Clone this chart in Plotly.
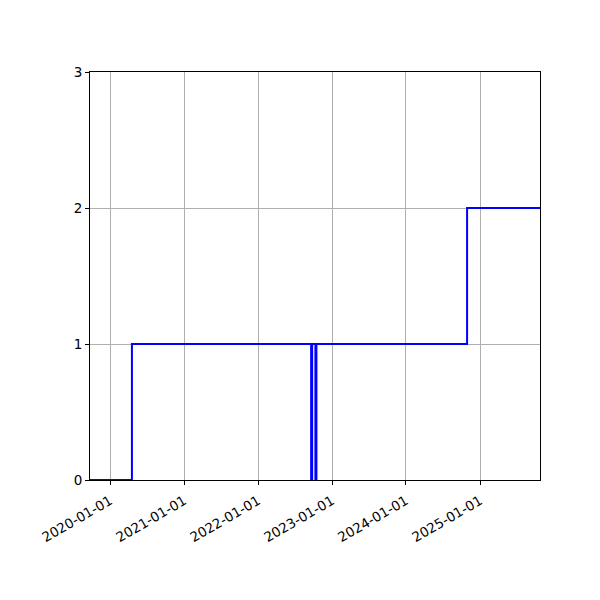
import plotly.graph_objects as go

dates = ["2019-09-24", "2020-04-18", "2022-09-20", "2022-09-25",
         "2022-10-11", "2022-10-16", "2024-10-29", "2025-10-24"]
values = [0, 1, 0, 1, 0, 1, 2, 2]
tick_dates = ["2020-01-01", "2021-01-01", "2022-01-01", "2023-01-01", "2024-01-01", "2025-01-01"]
y_ticks = [0, 1, 2, 3]

fig = go.Figure()
fig.add_trace(go.Scatter(x=dates, y=values, mode="lines", line_shape="hv",
                         line=dict(color="blue", width=2), showlegend=False))

fig.update_layout(
    width=600, height=600,
    margin=dict(l=82, r=68, t=64, b=128),
    plot_bgcolor="white", paper_bgcolor="white",
    font=dict(family="DejaVu Sans", size=13.5, color="black"),
)
fig.update_xaxes(
    range=["2019-09-24", "2025-10-24"],
    tickvals=tick_dates, ticktext=tick_dates, tickangle=-30,
    showgrid=True, gridcolor="#b0b0b0", gridwidth=1,
    showline=True, linecolor="black", linewidth=1, mirror=True,
    ticks="outside", ticklen=4, tickcolor="black", zeroline=False,
    ticklabelstandoff=3, layer="below traces",
)
fig.update_yaxes(
    range=[0, 3], tickvals=y_ticks,
    showgrid=True, gridcolor="#b0b0b0", gridwidth=1,
    showline=True, linecolor="black", linewidth=1, mirror=True,
    ticks="outside", ticklen=4, tickcolor="black", zeroline=False,
    layer="below traces",
)
fig.write_html("out.html")
